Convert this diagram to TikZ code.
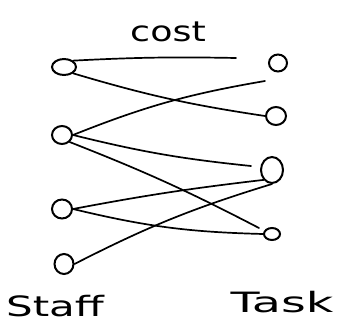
\documentclass[tikz,border=0pt]{standalone}
\usepackage{fontspec}
\setmainfont{DejaVu Sans}
\usetikzlibrary{shapes.geometric}
\begin{document}
\begin{tikzpicture}[x=1pt,y=-1pt,
  vert/.style={draw, ellipse, line width=2pt, inner sep=0pt},
  edge/.style={line width=1.7pt, line cap=round},
  lbl/.style={font=\fontsize{28}{30}\selectfont}]
\useasboundingbox (0,0) rectangle (345,331);
\node[vert, minimum width=24pt, minimum height=16pt] (l1) at (64,67) {};
\node[vert, minimum width=20pt, minimum height=18pt] (l2) at (62,135) {};
\node[vert, minimum width=20pt, minimum height=19pt] (l3) at (62,209) {};
\node[vert, minimum width=19pt, minimum height=20pt] (l4) at (64,264) {};
\node[vert, minimum width=18pt, minimum height=17pt] (r1) at (278,63) {};
\node[vert, minimum width=20pt, minimum height=18pt] (r2) at (276,116) {};
\node[vert, minimum width=22pt, minimum height=26pt] (r3) at (272,170) {};
\node[vert, minimum width=16pt, minimum height=12pt] (r4) at (272,234) {};
\coordinate (e1) at (236,58);
\coordinate (e2) at (265,81);
\coordinate (e3) at (251,166);
\coordinate (e4) at (259,228);
\draw[edge] (l1.north east) to[bend left=2] (e1);
\draw[edge] (l1.south east) to[bend right=4] (r2.west);
\draw[edge] (l2.east) to[bend left=6] (e2);
\draw[edge] (l2.east) to[bend right=4] (e3);
\draw[edge] (l2.south east) to[bend left=3] (e4);
\draw[edge] (l3.east) to[bend left=2] (r3.south west);
\draw[edge] (l3.east) to[bend right=6] (r4.west);
\draw[edge] (l4.east) to[bend left=5] (r3.south);
\node[lbl, xscale=1.3] (cost) at (168,32) {cost};
\node[lbl, xscale=1.5] (staff) at (55,306) {Staff};
\node[lbl, xscale=1.7] (task) at (282,302) {Task};
\end{tikzpicture}
\end{document}
